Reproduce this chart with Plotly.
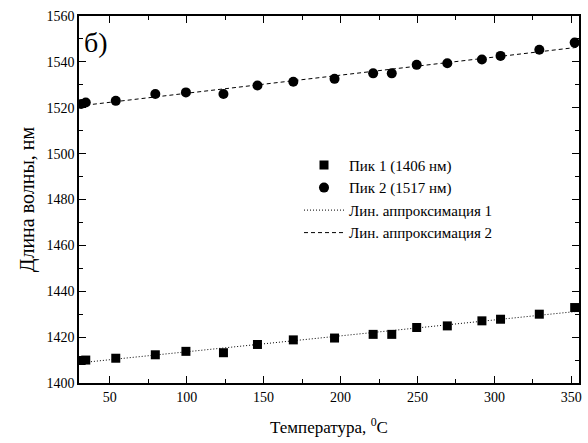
import numpy as np
import plotly.graph_objects as go

# Peak 1 (squares)
t1 = [31.4, 34.4, 53.9, 79.6, 99.5, 123.9, 146.0, 169.3, 196.1, 221.2, 233.3, 249.5, 269.4, 291.9, 304.0, 329.2, 352.2]
w1 = [1409.8, 1410.0, 1410.8, 1412.3, 1413.8, 1413.2, 1416.8, 1418.8, 1419.6, 1421.2, 1421.2, 1424.2, 1424.9, 1427.1, 1427.8, 1430.0, 1432.9]
# Peak 2 (circles)
t2 = [31.4, 34.4, 53.9, 79.6, 99.5, 123.9, 146.0, 169.3, 196.1, 221.2, 233.3, 249.5, 269.4, 291.9, 304.0, 329.2, 352.2]
w2 = [1521.6, 1522.3, 1523.0, 1526.0, 1526.7, 1526.0, 1529.7, 1531.3, 1532.6, 1535.0, 1535.0, 1538.7, 1539.4, 1541.0, 1542.6, 1545.3, 1548.4]

names = ["Пик 1 (1406 нм)", "Пик 2 (1517 нм)", "Лин. аппроксимация 1", "Лин. аппроксимация 2"]
x_range = [30, 355]
y_range = [1400, 1560]

FONT = "Liberation Serif, Times New Roman, serif"

p1 = np.polyfit(t1, w1, 1)
p2 = np.polyfit(t2, w2, 1)
xf = np.array(x_range, dtype=float)

fig = go.Figure()
fig.add_trace(go.Scatter(x=t1, y=w1, mode="markers", name=names[0],
                         marker=dict(symbol="square", size=9, color="black")))
fig.add_trace(go.Scatter(x=t2, y=w2, mode="markers", name=names[1],
                         marker=dict(symbol="circle", size=10, color="black")))
fig.add_trace(go.Scatter(x=xf, y=np.polyval(p1, xf), mode="lines", name=names[2],
                         line=dict(color="black", width=1, dash="1px,2px")))
fig.add_trace(go.Scatter(x=xf, y=np.polyval(p2, xf), mode="lines", name=names[3],
                         line=dict(color="black", width=1, dash="4px,3px")))

axis_common = dict(showline=True, linecolor="black", linewidth=1.5, mirror="ticks",
                   ticks="inside", ticklen=7, tickwidth=1.3, tickcolor="black",
                   showgrid=False, zeroline=False,
                   tickfont=dict(family=FONT, size=14, color="black"))

fig.update_xaxes(range=x_range, tick0=50, dtick=50,
                 minor=dict(ticks="inside", ticklen=4, tickcolor="black", dtick=25, tick0=0, showgrid=False),
                 title=dict(text="Температура, <sup>0</sup>C", font=dict(family=FONT, size=17, color="black"), standoff=18),
                 **axis_common)
fig.update_yaxes(range=y_range, dtick=20,
                 minor=dict(ticks="inside", ticklen=4, tickcolor="black", dtick=10, showgrid=False),
                 title=dict(text="Длина волны, нм", font=dict(family=FONT, size=20, color="black"), standoff=6),
                 **axis_common)

fig.add_annotation(x=0.005, y=0.975, xref="paper", yref="paper", text="б)", showarrow=False,
                   xanchor="left", yanchor="top", font=dict(family=FONT, size=28, color="black"))

fig.update_layout(
    width=588, height=443,
    margin=dict(l=79, r=6, t=16, b=60),
    plot_bgcolor="white", paper_bgcolor="white",
    font=dict(family=FONT, color="black"),
    legend=dict(x=0.44, y=0.638, xanchor="left", yanchor="top",
                bgcolor="rgba(0,0,0,0)", font=dict(family=FONT, size=15, color="black"),
                tracegroupgap=0, itemwidth=40),
)

fig.write_html("out.html")
